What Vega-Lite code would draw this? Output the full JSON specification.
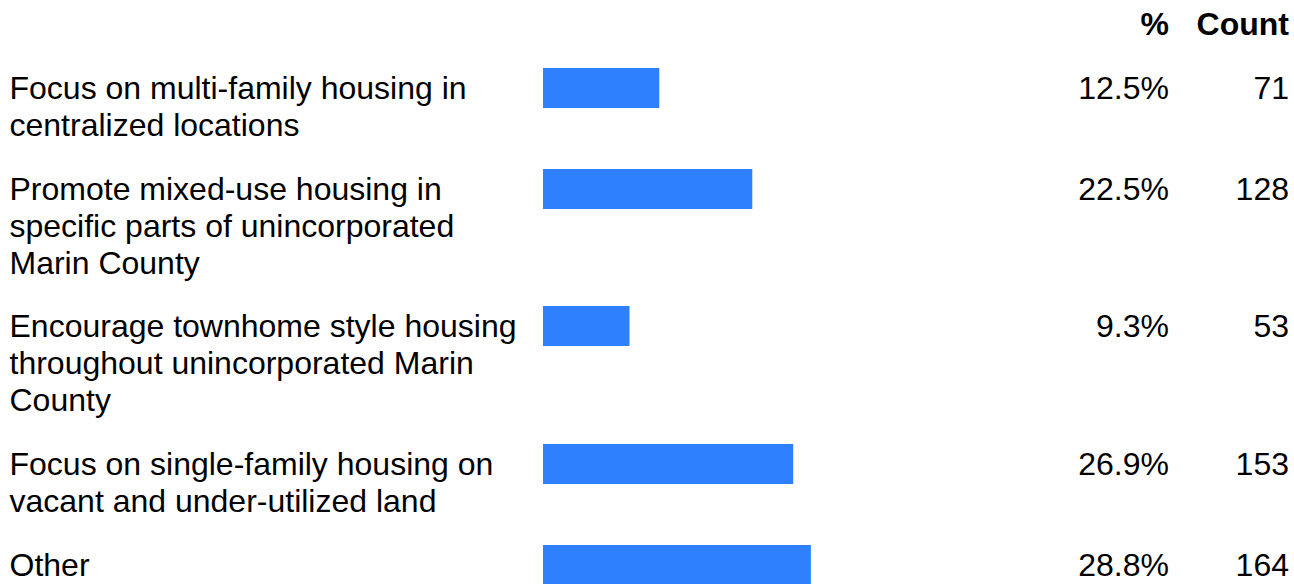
{
  "$schema": "https://vega.github.io/schema/vega-lite/v6.json",
  "padding": {"left": 9, "top": 8, "right": 5, "bottom": 0},
  "autosize": {"type": "pad"},
  "background": "white",
  "config": {
    "view": {"stroke": null},
    "font": "Liberation Sans",
    "text": {"font": "Liberation Sans", "fontSize": 32, "color": "#000000"}
  },
  "data": {
    "values": [
      {"id": 1, "label": "Focus on multi-family housing in|centralized locations", "pct": 0.125, "count": 71},
      {"id": 2, "label": "Promote mixed-use housing in|specific parts of unincorporated|Marin County", "pct": 0.225, "count": 128},
      {"id": 3, "label": "Encourage townhome style housing|throughout unincorporated Marin|County", "pct": 0.093, "count": 53},
      {"id": 4, "label": "Focus on single-family housing on|vacant and under-utilized land", "pct": 0.269, "count": 153},
      {"id": 5, "label": "Other", "pct": 0.288, "count": 164}
    ]
  },
  "spacing": 0,
  "vconcat": [
    {
      "spacing": 0,
      "hconcat": [
        {
          "width": 506, "height": 101,
          "transform": [{"filter": "datum.id == 1"}],
          "mark": {"type": "bar", "color": "#2F80FF"},
          "encoding": {
            "x": {"field": "pct", "type": "quantitative", "scale": {"domain": [0, 0.544], "nice": false}, "axis": null},
            "y": {"field": "label", "type": "nominal", "scale": {"type": "band", "range": [0, 40], "paddingInner": 0, "paddingOuter": 0},
              "axis": {"title": null, "domain": false, "ticks": false, "tickSize": 0, "labelAlign": "left", "labelBaseline": "alphabetic", "labelPadding": 534, "labelOffset": 11, "labelFont": "Liberation Sans", "labelFontSize": 32, "labelColor": "#000000", "labelLimit": 0, "labelLineHeight": 36.8, "labelExpr": "split(datum.label, '|')"}}
          }
        },
        {
          "width": 240, "height": 101,
          "transform": [{"filter": "datum.id == 1"}],
          "layer": [
            {
              "mark": {"type": "text", "align": "right", "baseline": "alphabetic", "dy": 11},
              "encoding": {
                "x": {"datum": "%", "type": "nominal", "bandPosition": 1, "scale": {"type": "band", "domain": ["%", "Count"], "paddingInner": 0, "paddingOuter": 0},
                  "axis": {"orient": "top", "title": null, "domain": false, "ticks": false, "tickSize": 0, "labelAngle": 0, "labelAlign": "right", "labelBaseline": "alphabetic", "labelPadding": 34, "labelOffset": 60, "labelFont": "Liberation Sans", "labelFontSize": 32, "labelFontWeight": "bold", "labelColor": "#000000"}},
                "y": {"field": "label", "type": "nominal", "scale": {"type": "band", "range": [0, 40], "paddingInner": 0, "paddingOuter": 0}, "axis": null},
                "text": {"field": "pct", "type": "quantitative", "format": ".1%"}
              }
            },
            {
              "mark": {"type": "text", "align": "right", "baseline": "alphabetic", "dy": 11},
              "encoding": {
                "x": {"datum": "Count", "type": "nominal", "bandPosition": 1},
                "y": {"field": "label", "type": "nominal", "axis": null},
                "text": {"field": "count", "type": "quantitative"}
              }
            }
          ]
        }
      ]
    },
    {
      "spacing": 0,
      "hconcat": [
        {
          "width": 506, "height": 137,
          "transform": [{"filter": "datum.id == 2"}],
          "mark": {"type": "bar", "color": "#2F80FF"},
          "encoding": {
            "x": {"field": "pct", "type": "quantitative", "scale": {"domain": [0, 0.544], "nice": false}, "axis": null},
            "y": {"field": "label", "type": "nominal", "scale": {"type": "band", "range": [0, 40], "paddingInner": 0, "paddingOuter": 0},
              "axis": {"title": null, "domain": false, "ticks": false, "tickSize": 0, "labelAlign": "left", "labelBaseline": "alphabetic", "labelPadding": 534, "labelOffset": 11, "labelFont": "Liberation Sans", "labelFontSize": 32, "labelColor": "#000000", "labelLimit": 0, "labelLineHeight": 36.8, "labelExpr": "split(datum.label, '|')"}}
          }
        },
        {
          "width": 240, "height": 137,
          "transform": [{"filter": "datum.id == 2"}],
          "layer": [
            {
              "mark": {"type": "text", "align": "right", "baseline": "alphabetic", "dy": 11},
              "encoding": {
                "x": {"datum": "%", "type": "nominal", "bandPosition": 1, "scale": {"type": "band", "domain": ["%", "Count"], "paddingInner": 0, "paddingOuter": 0}, "axis": null},
                "y": {"field": "label", "type": "nominal", "scale": {"type": "band", "range": [0, 40], "paddingInner": 0, "paddingOuter": 0}, "axis": null},
                "text": {"field": "pct", "type": "quantitative", "format": ".1%"}
              }
            },
            {
              "mark": {"type": "text", "align": "right", "baseline": "alphabetic", "dy": 11},
              "encoding": {
                "x": {"datum": "Count", "type": "nominal", "bandPosition": 1},
                "y": {"field": "label", "type": "nominal", "axis": null},
                "text": {"field": "count", "type": "quantitative"}
              }
            }
          ]
        }
      ]
    },
    {
      "spacing": 0,
      "hconcat": [
        {
          "width": 506, "height": 138,
          "transform": [{"filter": "datum.id == 3"}],
          "mark": {"type": "bar", "color": "#2F80FF"},
          "encoding": {
            "x": {"field": "pct", "type": "quantitative", "scale": {"domain": [0, 0.544], "nice": false}, "axis": null},
            "y": {"field": "label", "type": "nominal", "scale": {"type": "band", "range": [0, 40], "paddingInner": 0, "paddingOuter": 0},
              "axis": {"title": null, "domain": false, "ticks": false, "tickSize": 0, "labelAlign": "left", "labelBaseline": "alphabetic", "labelPadding": 534, "labelOffset": 11, "labelFont": "Liberation Sans", "labelFontSize": 32, "labelColor": "#000000", "labelLimit": 0, "labelLineHeight": 36.8, "labelExpr": "split(datum.label, '|')"}}
          }
        },
        {
          "width": 240, "height": 138,
          "transform": [{"filter": "datum.id == 3"}],
          "layer": [
            {
              "mark": {"type": "text", "align": "right", "baseline": "alphabetic", "dy": 11},
              "encoding": {
                "x": {"datum": "%", "type": "nominal", "bandPosition": 1, "scale": {"type": "band", "domain": ["%", "Count"], "paddingInner": 0, "paddingOuter": 0}, "axis": null},
                "y": {"field": "label", "type": "nominal", "scale": {"type": "band", "range": [0, 40], "paddingInner": 0, "paddingOuter": 0}, "axis": null},
                "text": {"field": "pct", "type": "quantitative", "format": ".1%"}
              }
            },
            {
              "mark": {"type": "text", "align": "right", "baseline": "alphabetic", "dy": 11},
              "encoding": {
                "x": {"datum": "Count", "type": "nominal", "bandPosition": 1},
                "y": {"field": "label", "type": "nominal", "axis": null},
                "text": {"field": "count", "type": "quantitative"}
              }
            }
          ]
        }
      ]
    },
    {
      "spacing": 0,
      "hconcat": [
        {
          "width": 506, "height": 101,
          "transform": [{"filter": "datum.id == 4"}],
          "mark": {"type": "bar", "color": "#2F80FF"},
          "encoding": {
            "x": {"field": "pct", "type": "quantitative", "scale": {"domain": [0, 0.544], "nice": false}, "axis": null},
            "y": {"field": "label", "type": "nominal", "scale": {"type": "band", "range": [0, 40], "paddingInner": 0, "paddingOuter": 0},
              "axis": {"title": null, "domain": false, "ticks": false, "tickSize": 0, "labelAlign": "left", "labelBaseline": "alphabetic", "labelPadding": 534, "labelOffset": 11, "labelFont": "Liberation Sans", "labelFontSize": 32, "labelColor": "#000000", "labelLimit": 0, "labelLineHeight": 36.8, "labelExpr": "split(datum.label, '|')"}}
          }
        },
        {
          "width": 240, "height": 101,
          "transform": [{"filter": "datum.id == 4"}],
          "layer": [
            {
              "mark": {"type": "text", "align": "right", "baseline": "alphabetic", "dy": 11},
              "encoding": {
                "x": {"datum": "%", "type": "nominal", "bandPosition": 1, "scale": {"type": "band", "domain": ["%", "Count"], "paddingInner": 0, "paddingOuter": 0}, "axis": null},
                "y": {"field": "label", "type": "nominal", "scale": {"type": "band", "range": [0, 40], "paddingInner": 0, "paddingOuter": 0}, "axis": null},
                "text": {"field": "pct", "type": "quantitative", "format": ".1%"}
              }
            },
            {
              "mark": {"type": "text", "align": "right", "baseline": "alphabetic", "dy": 11},
              "encoding": {
                "x": {"datum": "Count", "type": "nominal", "bandPosition": 1},
                "y": {"field": "label", "type": "nominal", "axis": null},
                "text": {"field": "count", "type": "quantitative"}
              }
            }
          ]
        }
      ]
    },
    {
      "spacing": 0,
      "hconcat": [
        {
          "width": 506, "height": 40,
          "transform": [{"filter": "datum.id == 5"}],
          "mark": {"type": "bar", "color": "#2F80FF"},
          "encoding": {
            "x": {"field": "pct", "type": "quantitative", "scale": {"domain": [0, 0.544], "nice": false}, "axis": null},
            "y": {"field": "label", "type": "nominal", "scale": {"type": "band", "range": [0, 40], "paddingInner": 0, "paddingOuter": 0},
              "axis": {"title": null, "domain": false, "ticks": false, "tickSize": 0, "labelAlign": "left", "labelBaseline": "alphabetic", "labelPadding": 534, "labelOffset": 11, "labelFont": "Liberation Sans", "labelFontSize": 32, "labelColor": "#000000", "labelLimit": 0, "labelLineHeight": 36.8, "labelExpr": "split(datum.label, '|')"}}
          }
        },
        {
          "width": 240, "height": 40,
          "transform": [{"filter": "datum.id == 5"}],
          "layer": [
            {
              "mark": {"type": "text", "align": "right", "baseline": "alphabetic", "dy": 11},
              "encoding": {
                "x": {"datum": "%", "type": "nominal", "bandPosition": 1, "scale": {"type": "band", "domain": ["%", "Count"], "paddingInner": 0, "paddingOuter": 0}, "axis": null},
                "y": {"field": "label", "type": "nominal", "scale": {"type": "band", "range": [0, 40], "paddingInner": 0, "paddingOuter": 0}, "axis": null},
                "text": {"field": "pct", "type": "quantitative", "format": ".1%"}
              }
            },
            {
              "mark": {"type": "text", "align": "right", "baseline": "alphabetic", "dy": 11},
              "encoding": {
                "x": {"datum": "Count", "type": "nominal", "bandPosition": 1},
                "y": {"field": "label", "type": "nominal", "axis": null},
                "text": {"field": "count", "type": "quantitative"}
              }
            }
          ]
        }
      ]
    }
  ]
}
